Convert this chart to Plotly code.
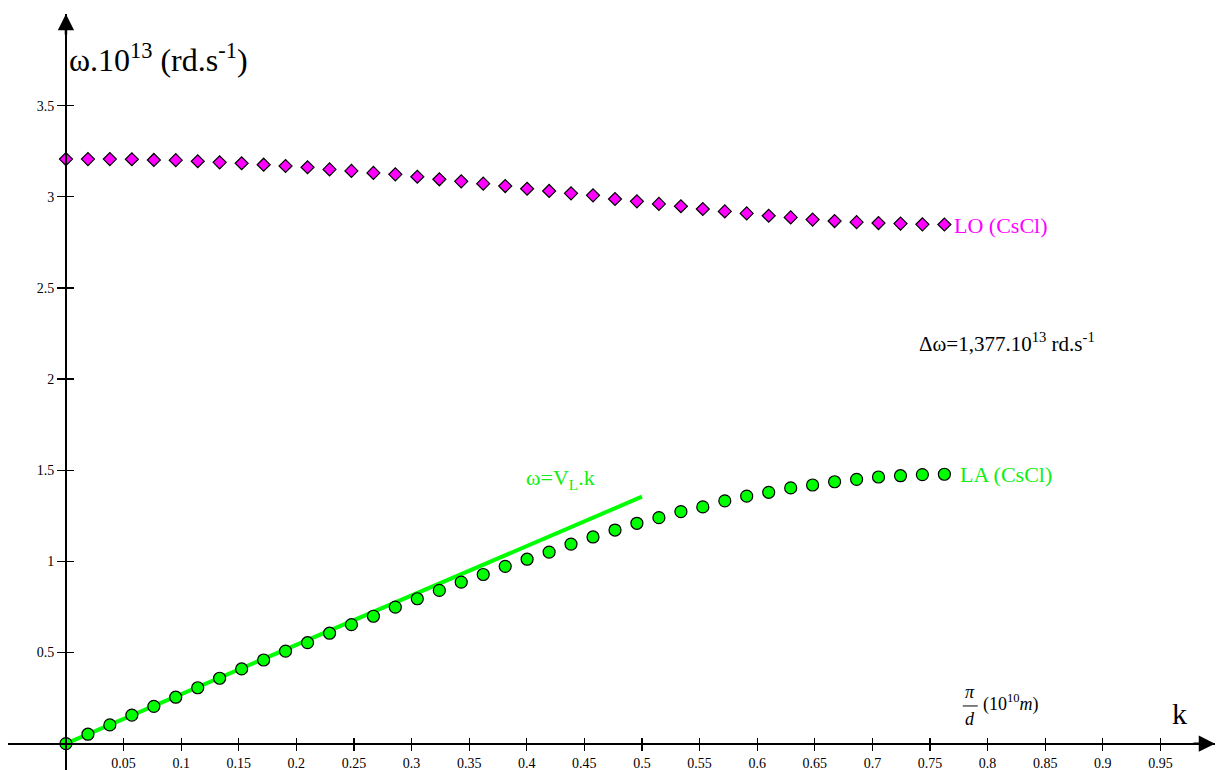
import plotly.graph_objects as go

# ---------------- data ----------------
k_vals = [0.0, 0.0191, 0.0381, 0.0572, 0.0763, 0.0953, 0.1144, 0.1334, 0.1525, 0.1716,
          0.1906, 0.2097, 0.2288, 0.2478, 0.2669, 0.2859, 0.3050, 0.3241, 0.3431, 0.3622,
          0.3813, 0.4003, 0.4194, 0.4384, 0.4575, 0.4766, 0.4956, 0.5147, 0.5338, 0.5528,
          0.5719, 0.5909, 0.6100, 0.6291, 0.6481, 0.6672, 0.6863, 0.7053, 0.7244, 0.7434,
          0.7625]

w_LO = [3.207, 3.207, 3.207, 3.206, 3.202, 3.201, 3.195, 3.189, 3.184, 3.176,
        3.169, 3.162, 3.150, 3.142, 3.131, 3.123, 3.110, 3.096, 3.085, 3.072,
        3.059, 3.044, 3.032, 3.019, 3.008, 2.988, 2.975, 2.961, 2.948, 2.933,
        2.920, 2.909, 2.896, 2.887, 2.875, 2.867, 2.861, 2.856, 2.853, 2.849,
        2.848]

w_LA = [0.000, 0.052, 0.103, 0.157, 0.205, 0.255, 0.307, 0.359, 0.410, 0.459,
        0.508, 0.554, 0.606, 0.653, 0.699, 0.749, 0.795, 0.841, 0.886, 0.928,
        0.973, 1.012, 1.051, 1.095, 1.134, 1.172, 1.209, 1.240, 1.273, 1.299,
        1.332, 1.358, 1.379, 1.403, 1.419, 1.437, 1.450, 1.463, 1.470, 1.476,
        1.478]

k_line = [0.0, 0.5]
w_line = [0.0, 1.355]

x_tickvals = [0.05, 0.1, 0.15, 0.2, 0.25, 0.3, 0.35, 0.4, 0.45, 0.5,
              0.55, 0.6, 0.65, 0.7, 0.75, 0.8, 0.85, 0.9, 0.95]
x_ticktext = ["0.05", "0.1", "0.15", "0.2", "0.25", "0.3", "0.35", "0.4", "0.45", "0.5",
              "0.55", "0.6", "0.65", "0.7", "0.75", "0.8", "0.85", "0.9", "0.95"]
y_tickvals = [0.5, 1, 1.5, 2, 2.5, 3, 3.5]
y_ticktext = ["0.5", "1", "1.5", "2", "2.5", "3", "3.5"]

# ---------------- layout constants ----------------
W, H = 1217, 770
ML, MR, MT, MB = 8, 2, 14, 0
X_RANGE = [-0.0503, 0.9974]
Y_RANGE = [-0.1443, 4.0027]
FONT = "Liberation Serif"
GREEN = "#00ff00"
GREEN_TXT = "#11ee11"
MAGENTA = "#ff00ff"

x_pos = (0 - Y_RANGE[0]) / (Y_RANGE[1] - Y_RANGE[0])   # paper y of k axis
y_pos = (0 - X_RANGE[0]) / (X_RANGE[1] - X_RANGE[0])   # paper x of w axis

fig = go.Figure()

fig.add_trace(go.Scatter(x=k_line, y=w_line, mode="lines",
                         line=dict(color=GREEN, width=4),
                         xaxis="x", yaxis="y", showlegend=False, hoverinfo="skip"))

fig.add_trace(go.Scatter(x=k_vals, y=w_LO, mode="markers",
                         marker=dict(symbol="diamond", size=10, color=MAGENTA,
                                     line=dict(color="black", width=1.2)),
                         xaxis="x2", yaxis="y2", showlegend=False, name="LO (CsCl)"))

fig.add_trace(go.Scatter(x=k_vals, y=w_LA, mode="markers",
                         marker=dict(symbol="circle", size=12, color=GREEN,
                                     line=dict(color="black", width=1.2)),
                         xaxis="x2", yaxis="y2", showlegend=False, name="LA (CsCl)"))

common_x = dict(range=X_RANGE, domain=[0, 1], anchor="free", position=x_pos,
                showgrid=False, zeroline=False, tickvals=x_tickvals,
                ticktext=x_ticktext, tickwidth=1.3, tickcolor="black",
                fixedrange=True)
common_y = dict(range=Y_RANGE, domain=[0, 1], anchor="free", position=y_pos,
                showgrid=False, zeroline=False, tickvals=y_tickvals,
                ticktext=y_ticktext, tickwidth=1.3, tickcolor="black",
                fixedrange=True)

fig.update_layout(
    width=W, height=H,
    margin=dict(l=ML, r=MR, t=MT, b=MB, pad=0),
    paper_bgcolor="white", plot_bgcolor="white",
    font=dict(family=FONT, color="black"),
    showlegend=False,
    xaxis=dict(**common_x, showline=True, linecolor="black", linewidth=2.5,
               ticks="outside", ticklen=6, showticklabels=True,
               tickfont=dict(family=FONT, size=14, color="black")),
    xaxis2=dict(**common_x, overlaying="x", showline=False,
                ticks="inside", ticklen=6, showticklabels=False),
    yaxis=dict(**common_y, showline=True, linecolor="black", linewidth=2.5,
               ticks="outside", ticklen=8, showticklabels=True,
               tickfont=dict(family=FONT, size=14, color="black")),
    yaxis2=dict(**common_y, overlaying="y", showline=False,
                ticks="inside", ticklen=7, showticklabels=False),
)

annotations = [
    # arrow heads on the axes
    dict(x=X_RANGE[1], y=0, xref="x", yref="y", ax=X_RANGE[1] - 0.02, ay=0,
         axref="x", ayref="y", text="", showarrow=True, arrowhead=2, arrowsize=1.3,
         arrowwidth=2.5, arrowcolor="black", standoff=0),
    dict(x=0, y=Y_RANGE[1], xref="x", yref="y", ax=0, ay=Y_RANGE[1] - 0.12,
         axref="x", ayref="y", text="", showarrow=True, arrowhead=2, arrowsize=1.3,
         arrowwidth=2.5, arrowcolor="black", standoff=0),
    # axis titles
    dict(x=0.001, y=3.76, xref="x", yref="y", xanchor="left", yanchor="middle",
         text="ω.10<sup>13</sup> (rd.s<sup>-1</sup>)", showarrow=False,
         font=dict(family=FONT, size=32, color="black")),
    dict(x=0.967, y=0.168, xref="x", yref="y", xanchor="center", yanchor="middle",
         text="k", showarrow=False, font=dict(family=FONT, size=30, color="black")),
    dict(x=0.785, y=0.285, xref="x", yref="y", xanchor="center", yanchor="middle",
         text="<i>π</i>", showarrow=False, font=dict(family=FONT, size=18, color="black")),
    dict(x=0.785, y=0.135, xref="x", yref="y", xanchor="center", yanchor="middle",
         text="<i>d</i>", showarrow=False, font=dict(family=FONT, size=18, color="black")),
    dict(x=0.794, y=0.222, xref="x", yref="y", xanchor="left", yanchor="middle",
         text="(10<sup>10</sup><i>m</i>)", showarrow=False,
         font=dict(family=FONT, size=18, color="black")),
    # series labels
    dict(x=0.769, y=2.845, xref="x", yref="y", xanchor="left", yanchor="middle",
         text="LO (CsCl)", showarrow=False, font=dict(family=FONT, size=22, color=MAGENTA)),
    dict(x=0.774, y=1.479, xref="x", yref="y", xanchor="left", yanchor="middle",
         text="LA (CsCl)", showarrow=False, font=dict(family=FONT, size=22, color=GREEN_TXT)),
    dict(x=0.3976, y=1.45, xref="x", yref="y", xanchor="left", yanchor="middle",
         text="ω=V<sub>L</sub>.k", showarrow=False,
         font=dict(family=FONT, size=22, color=GREEN_TXT)),
    dict(x=0.7387, y=2.2, xref="x", yref="y", xanchor="left", yanchor="middle",
         text="Δω=1,377.10<sup>13</sup> rd.s<sup>-1</sup>", showarrow=False,
         font=dict(family=FONT, size=21, color="black")),
]
fig.update_layout(annotations=annotations)

# fraction bar of pi/d
fig.add_shape(type="line", xref="x", yref="y", x0=0.7785, x1=0.7915, y0=0.207, y1=0.207,
              line=dict(color="black", width=1))

fig.write_html("out.html", config={"displayModeBar": False, "staticPlot": True},
               post_script="document.body.style.margin='0px';document.body.style.overflow='hidden';")
